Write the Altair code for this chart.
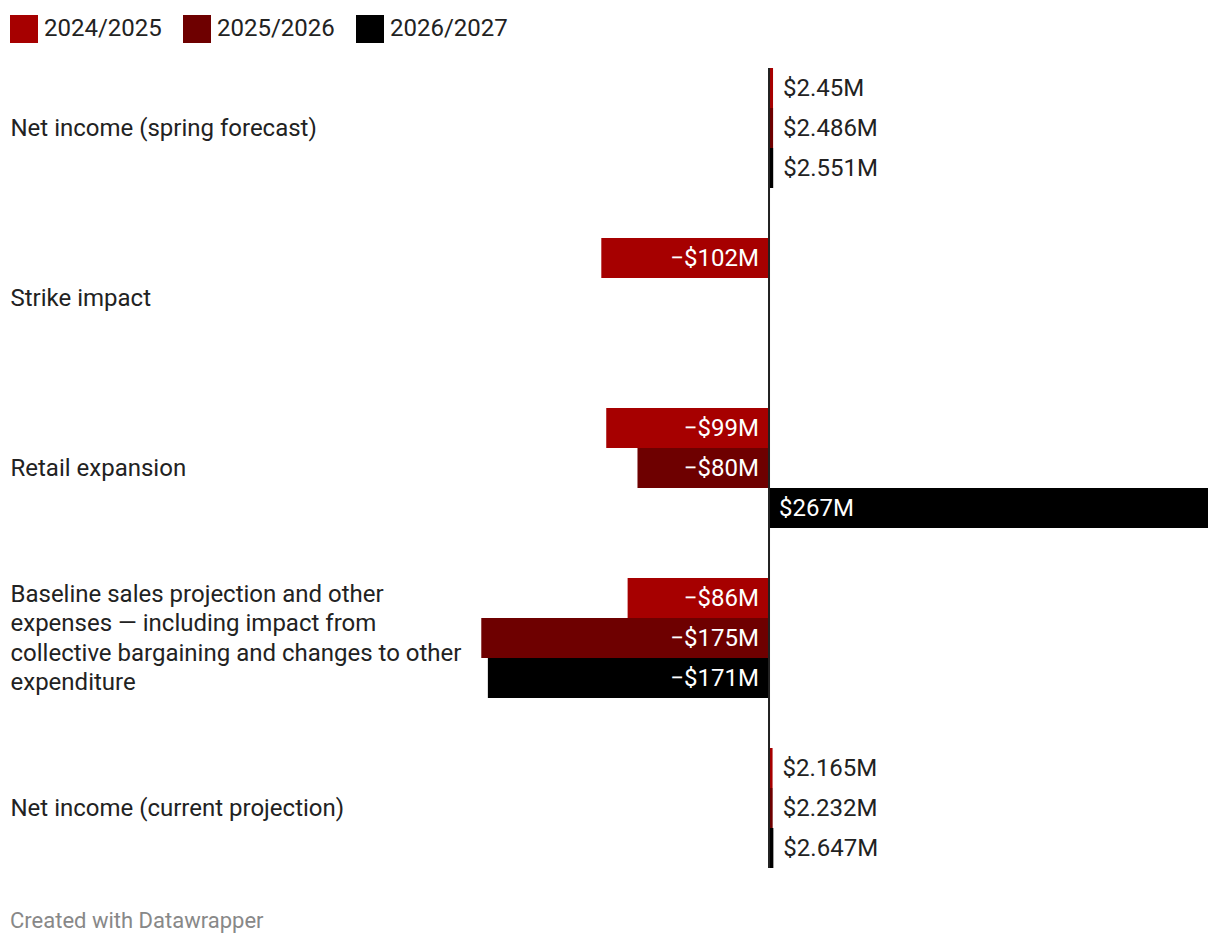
import altair as alt
import pandas as pd

categories = [
    "Net income (spring forecast)",
    "Strike impact",
    "Retail expansion",
    "Baseline sales projection and other expenses — including impact from collective bargaining and changes to other expenditure",
    "Net income (current projection)",
]
category_lines = [
    ["Net income (spring forecast)"],
    ["Strike impact"],
    ["Retail expansion"],
    ["Baseline sales projection and other", "expenses — including impact from",
     "collective bargaining and changes to other", "expenditure"],
    ["Net income (current projection)"],
]
series = ["2024/2025", "2025/2026", "2026/2027"]
colors = ["#a60000", "#6e0000", "#000000"]

values_2024_2025 = [2.45, -102, -99, -86, 2.165]
values_2025_2026 = [2.486, None, -80, -175, 2.232]
values_2026_2027 = [2.551, None, 267, -171, 2.647]


def fmt(v):
    s = f"${abs(v):g}M"
    return ("\u2212" + s) if v < 0 else s


rows = []
for s, vals in zip(series, [values_2024_2025, values_2025_2026, values_2026_2027]):
    for c, v in zip(categories, vals):
        if v is None:
            continue
        rows.append({"category": c, "series": s, "value": v, "label": fmt(v)})
df = pd.DataFrame(rows)

LINE_H = 29.3
parts = []
for c, lines in zip(categories, category_lines):
    if len(lines) > 1:
        arr = "[" + ",".join("'" + l + "'" for l in lines) + "]"
        parts.append(f"datum.label == '{c}' ? {arr}")
label_expr = " : ".join(parts) + " : datum.label"
multi = [(c, len(l)) for c, l in zip(categories, category_lines) if len(l) > 1]
mc, mn = multi[0]
label_offset = {
    "condition": {"test": f"datum.value == '{mc}'", "value": 1 - (mn - 1) / 2 * LINE_H},
    "value": 1,
}

FONT = "Roboto"

y_enc = alt.Y(
    "category:N",
    sort=categories,
    scale=alt.Scale(paddingInner=50 / 170, paddingOuter=0),
    axis=alt.Axis(
        title=None,
        domain=False,
        ticks=False,
        labelAlign="left",
        labelBaseline="middle",
        labelPadding=468,
        labelLimit=470,
        labelFontSize=24,
        labelFont=FONT,
        labelColor="#222222",
        labelLineHeight=LINE_H,
        labelOffset=label_offset,
        labelExpr=label_expr,
    ),
)
yoff = alt.YOffset("series:N", sort=series, scale=alt.Scale(paddingInner=0, paddingOuter=0))
x_scale = alt.Scale(domain=[-177, 267], nice=False, zero=True)

base = alt.Chart(df).encode(y=y_enc, yOffset=yoff)

bars = base.mark_bar().encode(
    x=alt.X("value:Q", scale=x_scale, axis=None),
    color=alt.Color(
        "series:N",
        sort=series,
        scale=alt.Scale(domain=series, range=colors),
        legend=alt.Legend(
            title=None,
            orient="none",
            legendX=-468,
            legendY=-53,
            direction="horizontal",
            symbolType="square",
            symbolSize=784,
            symbolStrokeWidth=0,
            symbolOpacity=1,
            labelFontSize=24,
            labelFont=FONT,
            labelColor="#222222",
            labelOffset=6,
            columnPadding=21,
            padding=0,
        ),
    ),
)

neg_text = base.transform_filter("datum.value < 0").mark_text(
    align="right", baseline="middle", dx=-10, dy=1, fontSize=24, font=FONT, color="#ffffff"
).encode(x=alt.datum(0, scale=x_scale), text="label:N")

big_pos_text = base.transform_filter("datum.value >= 50").mark_text(
    align="left", baseline="middle", dx=10, dy=1, fontSize=24, font=FONT, color="#ffffff"
).encode(x=alt.datum(0, scale=x_scale), text="label:N")

small_pos_text = base.transform_filter("datum.value > 0 && datum.value < 50").mark_text(
    align="left", baseline="middle", dx=10, dy=1, fontSize=24, font=FONT, color="#222222"
).encode(x=alt.X("value:Q", scale=x_scale), text="label:N")

zero_rule = alt.Chart(pd.DataFrame({"zero": [0]})).mark_rule(
    color="#222222", strokeWidth=2
).encode(x=alt.X("zero:Q", scale=x_scale))

chart = (
    alt.layer(bars, zero_rule, neg_text, big_pos_text, small_pos_text)
    .properties(
        width=730,
        height=800,
        background="white",
        autosize=alt.AutoSizeParams(type="none"),
        padding={"left": 470, "top": 60, "right": 4, "bottom": 70},
        title=alt.TitleParams(
            "Created with Datawrapper",
            orient="bottom",
            anchor="start",
            frame="bounds",
            fontSize=22,
            font=FONT,
            fontWeight="normal",
            color="#888888",
            offset=42,
        ),
    )
    .configure_view(strokeWidth=0, stroke=None)
)

chart.save("out.html", embed_options={"renderer": "svg", "actions": False})
